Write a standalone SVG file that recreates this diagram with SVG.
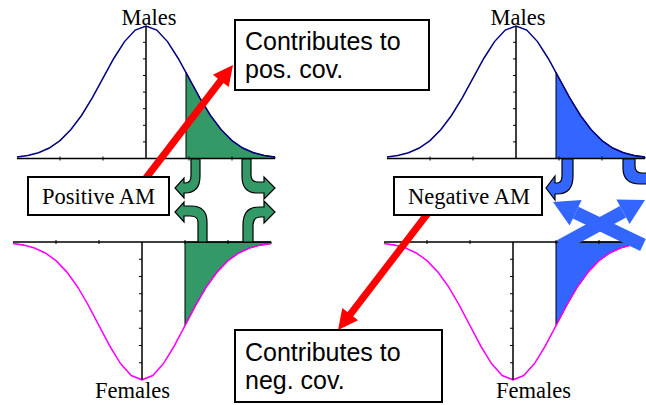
<svg xmlns="http://www.w3.org/2000/svg" xmlns:xlink="http://www.w3.org/1999/xlink" width="646" height="405" viewBox="0 0 646 405">
<style>
.bg{fill:#ffffff}
.male{fill:none;stroke:#000080;stroke-width:1.5}
.female{fill:none;stroke:#ff00ff;stroke-width:1.5}
.axis{fill:none;stroke:#000000;stroke-width:1.5}
.tick{fill:none;stroke:#000000;stroke-width:1}
.gshade{fill:#339966;stroke:#000000;stroke-width:1}
.bshade{fill:#3366ff;stroke:#000000;stroke-width:1}
.garrow{fill:#339966;stroke:#000000;stroke-width:1.2}
.barrow{fill:#3366ff;stroke:#000000;stroke-width:1.2}
.bx{fill:#3366ff;stroke:none}
.box{fill:#ffffff;stroke:#000000;stroke-width:2}
.serif{font-family:"Liberation Serif","Times New Roman",serif;font-size:22.5px;fill:#000000}
.sans{font-family:"Liberation Sans",Arial,sans-serif;font-size:25px;fill:#000000}
.red{stroke:#ff0000;stroke-width:7;fill:none}
.redhead{fill:#ff0000}
</style>
<defs>
<path id="curve" d="M-129,-1.5 L-118.25,-3 L-107.5,-5.8 L-96.75,-10.5 L-86,-17.9 L-75.25,-28.7 L-64.5,-43 L-53.75,-60.7 L-43,-80.4 L-32.25,-100 L-21.5,-116.9 L-10.75,-128.4 L0,-132.5 L10.75,-128.4 L21.5,-116.9 L32.25,-100 L43,-80.4 L53.75,-60.7 L64.5,-43 L75.25,-28.7 L86,-17.9 L96.75,-10.5 L107.5,-5.8 L118.25,-3 L129,-1.5"/>
<path id="shadeTop" d="M40,0 L40,-86 L43,-80.4 L53.75,-60.7 L64.5,-43 L75.25,-28.7 L86,-17.9 L96.75,-10.5 L107.5,-5.8 L118.25,-3 L129,-1.5 L129,0 Z"/>
<path id="shadeBot" d="M43,0 L43,-80.4 L53.75,-60.7 L64.5,-43 L75.25,-28.7 L86,-17.9 L96.75,-10.5 L107.5,-5.8 L118.25,-3 L129,-1.5 L129,0 Z"/>
<g id="axes">
<path class="axis" d="M-129,0 H129 M0,0 V-132.5"/>
<path class="tick" d="M-86,-2 V2 M-43,-2 V2 M43,-2 V2 M86,-2 V2 M-3,-16.6 H0 M-3,-33.2 H0 M-3,-49.8 H0 M-3,-66.4 H0 M-3,-83 H0 M-3,-99.6 H0 M-3,-116.2 H0"/>
</g>
</defs>
<rect class="bg" x="0" y="0" width="646" height="405"/>

<g id="plot-left-males">
<use xlink:href="#shadeTop" href="#shadeTop" class="gshade" transform="translate(146,158.5)"/>
<use xlink:href="#curve" href="#curve" class="male" transform="translate(146,158.5)"/>
<use xlink:href="#axes" href="#axes" transform="translate(146,158.5)"/>
</g>
<g id="plot-left-females">
<use xlink:href="#shadeBot" href="#shadeBot" class="gshade" transform="translate(142,242) scale(1,-1.04)"/>
<use xlink:href="#curve" href="#curve" class="female" transform="translate(142,242) scale(1,-1.04)"/>
<use xlink:href="#axes" href="#axes" transform="translate(142,242) scale(1,-1.04)"/>
</g>
<g id="plot-right-males">
<use xlink:href="#shadeTop" href="#shadeTop" class="bshade" transform="translate(516,158.5)"/>
<use xlink:href="#curve" href="#curve" class="male" transform="translate(516,158.5)"/>
<use xlink:href="#axes" href="#axes" transform="translate(516,158.5)"/>
</g>
<g id="plot-right-females">
<use xlink:href="#shadeBot" href="#shadeBot" class="bshade" transform="translate(513,242) scale(1,-1.04)"/>
<use xlink:href="#curve" href="#curve" class="female" transform="translate(513,242) scale(1,-1.04)"/>
<use xlink:href="#axes" href="#axes" transform="translate(513,242) scale(1,-1.04)"/>
</g>

<g id="green-arrows">
<path class="garrow" d="M191,159 L200,159 L200,176 Q200,193 185,193 L184,193 L184,198 L175,188 L184,178 L184,183 L185,183 Q191,183 191,176 Z"/>
<path class="garrow" d="M198,242 L207,242 L207,222 Q207,206 191,206 L184,206 L184,202 L175,212 L184,222 L184,216 L190,216 Q198,216 198,222 Z"/>
<path class="garrow" d="M242,159 L251,159 L251,175 Q251,182 258,182 L264,182 L264,177 L275,188 L264,199 L264,193 L257,193 Q242,193 242,176 Z"/>
<path class="garrow" d="M243,242 L253,242 L253,225 Q253,217 261,217 L264,217 L264,223 L275,212 L264,201 L264,207 L259,207 Q243,207 243,225 Z"/>
</g>

<g id="blue-arrows">
<path class="barrow" d="M562,159 L573,159 L573,176 Q573,194 557,194 L555,194 L555,200 L546,188 L555,176 L555,183 L557,183 Q562,183 562,176 Z"/>
<path class="barrow" d="M623,159 L635,159 L635,166 Q635,173 642,173 L650,173 L650,184 L640,184 Q623,184 623,168 Z"/>
<path class="bx" d="M563.1,251.7 L556.9,240.3 L619.9,206.1 L626.1,217.5 Z"/>
<polygon class="bx" points="645,200 616.4,199.5 629.6,224.1"/>
<path class="bx" d="M645.8,239.1 L640.2,250.9 L572.8,218.6 L578.4,206.8 Z"/>
<polygon class="bx" points="553,202 581.6,200 569.6,225.4"/>
</g>

<g id="connectors">
<line class="red" x1="146" y1="178" x2="222" y2="79"/>
<polygon class="redhead" points="233,65 228.7,86.9 212.9,74.7"/>
<line class="red" x1="428" y1="213" x2="349" y2="316"/>
<polygon class="redhead" points="338,330 358.1,320.2 342.3,308"/>
</g>

<g id="node-positive-am">
<rect class="box" x="28" y="177" width="141" height="38"/>
<text class="serif" x="98.5" y="204" text-anchor="middle">Positive AM</text>
</g>
<g id="node-negative-am">
<rect class="box" x="394" y="177" width="148" height="38"/>
<text class="serif" x="469" y="204" text-anchor="middle">Negative AM</text>
</g>
<g id="node-pos-cov">
<rect class="box" x="235" y="20" width="194" height="70"/>
<text class="sans" x="245" y="50">Contributes to</text>
<text class="sans" x="245" y="78">pos. cov.</text>
</g>
<g id="node-neg-cov">
<rect class="box" x="235" y="330" width="207" height="72"/>
<text class="sans" x="245" y="361">Contributes to</text>
<text class="sans" x="245" y="389">neg. cov.</text>
</g>

<g id="labels">
<text class="serif" x="149" y="25" text-anchor="middle">Males</text>
<text class="serif" x="518" y="25" text-anchor="middle">Males</text>
<text class="serif" x="132.5" y="398" text-anchor="middle">Females</text>
<text class="serif" x="533.5" y="398" text-anchor="middle">Females</text>
</g>
</svg>
